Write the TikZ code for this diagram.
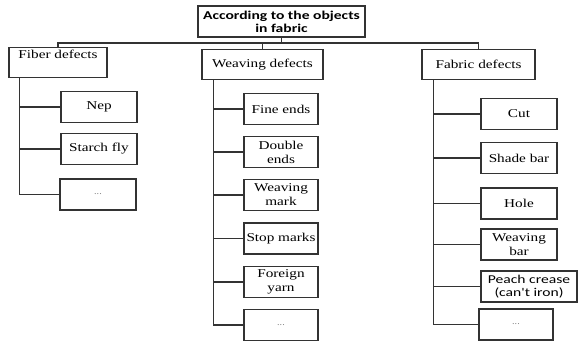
\documentclass[tikz,border=0pt]{standalone}
\usepackage{fontspec}
\setmainfont{Liberation Serif}[FakeStretch=1.27]
\newfontfamily\calfont{Carlito}[FakeStretch=1.3]
\begin{document}
\begin{tikzpicture}[x=1pt,y=-1pt,
  box/.style={draw=black!80, line width=1.1pt, align=center, inner sep=1pt, font=\fontsize{12}{14}\selectfont},
  head/.style={box, minimum height=30pt},
  item/.style={box, minimum width=75pt, minimum height=31pt},
  more/.style={item, font=\footnotesize, text=black!60},
  link/.style={draw=black!80, line width=1.1pt}]
\useasboundingbox (0,0) rectangle (580,341);

%% top and the three groups
\node [box, minimum width=167pt, minimum height=31pt, font=\calfont\bfseries\fontsize{12}{13}\selectfont] (top) at (281.5,21.5) {According to the objects\\in fabric};
\node [head, minimum width=98pt, text height=7pt, text depth=15pt] (fiber) at (58,62.5) {Fiber defects};
\node [head, minimum width=121pt] (weaving) at (262.5,64.5) {Weaving defects};
\node [head, minimum width=113pt] (fabric) at (478.5,64.5) {Fabric defects};

%% bus under the top box
\coordinate (bus) at (0,43);
\draw [link] (top.south) -- (top.south |- bus); % down from top
\draw [link] (fiber.north) -- (fiber.north |- bus) -- (fabric.north |- bus) -- (fabric.north); % bus
\draw [link] (weaving.north) -- (weaving.north |- bus); % to weaving defects

%% fiber defects
\node [item, minimum width=76pt] (nep) at (99,107) {Nep};
\node [item, minimum width=76pt] (starch) at (99,149) {Starch fly};
\node [more, minimum width=76pt] (fibmore) at (98,194.5) {...};
\coordinate (fibsp) at ([xshift=11pt]fiber.south west);
\draw [link] (fibsp) |- (fibmore.west); % spine
\draw [link] (fibsp) |- (nep.west);
\draw [link] (fibsp) |- (starch.west);

%% weaving defects
\node [item, minimum width=74pt] (fine) at (281,109) {Fine ends};
\node [item, minimum width=74pt] (double) at (281,152) {Double\\ends};
\node [item, minimum width=74pt] (wmark) at (281,195) {Weaving\\mark};
\node [item, minimum width=74pt, inner sep=0pt] (stop) at (281,238.5) {Stop marks};
\node [item, minimum width=74pt] (foreign) at (281,282) {Foreign\\yarn};
\node [more, minimum width=74pt] (weamore) at (281,325) {...};
\coordinate (weasp) at ([xshift=12pt]weaving.south west);
\draw [link] (weasp) |- (weamore.west); % spine
\foreach \n in {fine,double,wmark,stop,foreign}
  \draw [link] (weasp) |- (\n.west);

%% fabric defects
\node [item, minimum width=76pt] (cut) at (519,114) {Cut};
\node [item, minimum width=76pt] (shade) at (519,158) {Shade bar};
\node [item, minimum width=76pt] (hole) at (519,203.5) {Hole};
\node [item, minimum width=76pt] (wbar) at (519,244.5) {Weaving\\bar};
\node [item, minimum width=96pt, font=\calfont\fontsize{12}{13.5}\selectfont] (peach) at (529,286.5) {Peach crease\\(can't iron)};
\node [more, minimum width=74pt] (fabmore) at (516,324.5) {...};
\coordinate (fabsp) at ([xshift=12pt]fabric.south west);
\draw [link] (fabsp) |- (fabmore.west); % spine
\foreach \n in {cut,shade,hole,wbar,peach}
  \draw [link] (fabsp) |- (\n.west);

\end{tikzpicture}
\end{document}
